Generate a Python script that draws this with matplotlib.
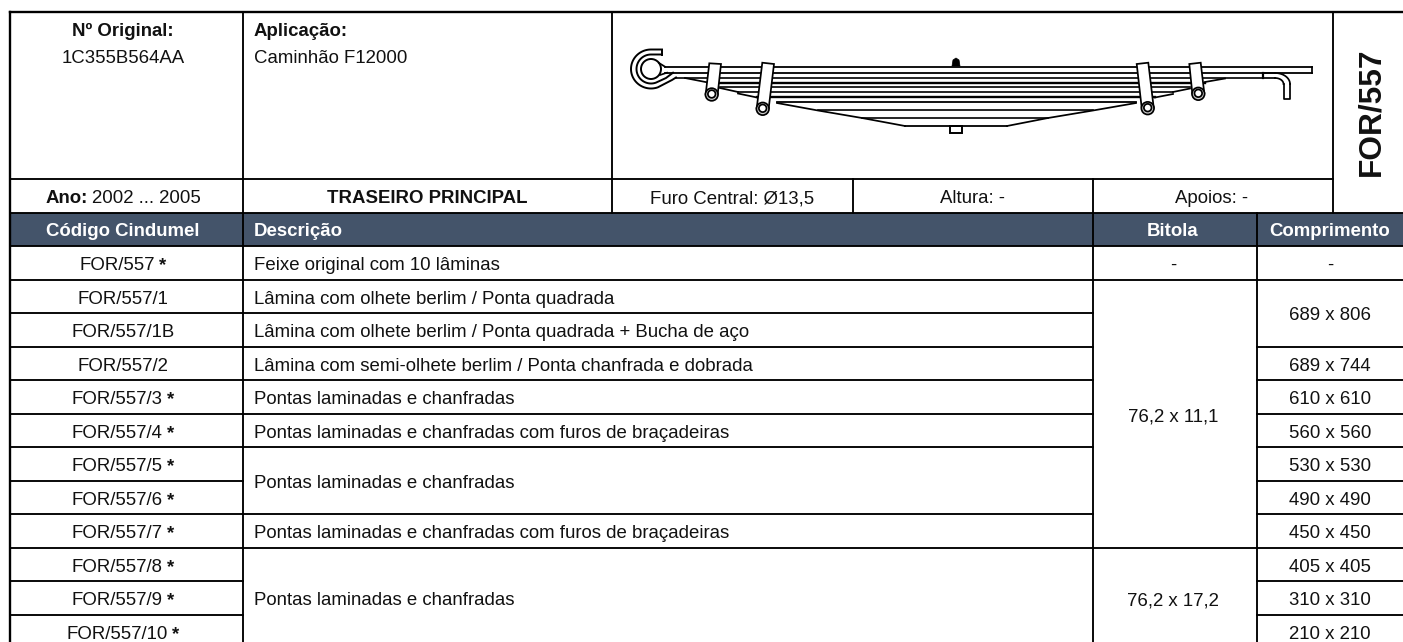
import matplotlib
matplotlib.use("Agg")
import matplotlib.pyplot as plt
import numpy as np
from matplotlib.patches import Circle, Polygon, Rectangle

plt.rcParams["font.family"] = ["Liberation Sans", "DejaVu Sans"]

# table contents
codes = ["FOR/557", "FOR/557/1", "FOR/557/1B", "FOR/557/2", "FOR/557/3", "FOR/557/4",
         "FOR/557/5", "FOR/557/6", "FOR/557/7", "FOR/557/8", "FOR/557/9", "FOR/557/10"]
starred = [True, False, False, False, True, True, True, True, True, True, True, True]
# (first row, last row, text)
descriptions = [
    (0, 0, "Feixe original com 10 lâminas"),
    (1, 1, "Lâmina com olhete berlim / Ponta quadrada"),
    (2, 2, "Lâmina com olhete berlim / Ponta quadrada + Bucha de aço"),
    (3, 3, "Lâmina com semi-olhete berlim / Ponta chanfrada e dobrada"),
    (4, 4, "Pontas laminadas e chanfradas"),
    (5, 5, "Pontas laminadas e chanfradas com furos de braçadeiras"),
    (6, 7, "Pontas laminadas e chanfradas"),
    (8, 8, "Pontas laminadas e chanfradas com furos de braçadeiras"),
    (9, 11, "Pontas laminadas e chanfradas"),
]
gauges = [(0, 0, "-"), (1, 8, "76,2 x 11,1"), (9, 11, "76,2 x 17,2")]
lengths = [(0, 0, "-"), (1, 2, "689 x 806"), (3, 3, "689 x 744"), (4, 4, "610 x 610"),
           (5, 5, "560 x 560"), (6, 6, "530 x 530"), (7, 7, "490 x 490"), (8, 8, "450 x 450"),
           (9, 9, "405 x 405"), (10, 10, "310 x 310"), (11, 11, "210 x 210")]
headers = ["Código Cindumel", "Descrição", "Bitola", "Comprimento"]

# leaf spring outline, in pixels of the picture
leaf_x0 = [665, 665, 676, 708, 720, 738, 757, 777, 818, 862, 905]
leaf_x1 = [1312, 1312, 1263, 1205, 1190, 1173, 1155, 1136, 1093, 1048, 1007]
leaf_y = [66.7, 72.7, 77.5, 82.5, 87.3, 92.3, 97.3, 102.3, 110, 118, 126]
leaf_lw = [1.3, 1.3, 1.2, 1.7, 1.2, 1.2, 1.7, 1.3, 1.2, 1.2, 1.3]
taper_x = [[685, 708], [720, 738], [738, 757], [777, 818, 862, 905],
           [1007, 1048, 1093, 1136], [1155, 1173], [1173, 1190], [1205, 1225]]
taper_y = [[78, 82.5], [88, 92], [93.5, 97.5], [103, 110.5, 118, 126],
           [126, 118, 110.5, 103], [97.5, 94], [92, 88.5], [82, 78.5]]
clip_left = [709.3, 762.3, 1136.7, 1189.3]
clip_right = [721, 774, 1148.3, 1200.7]
clip_left_y = [63.3, 62.7, 64, 64]
clip_right_y = [64, 64, 62.7, 62.7]
ring_x = [711.7, 762.7, 1147.7, 1198.3]
ring_y = [94, 108.3, 107.7, 93.3]

X0, X1, X2, X3, X4, X5, X6 = 10, 243, 612, 853, 1093, 1257, 1333
TOP, INFO, HEAD, BODY = 12, 178.5, 212.5, 246
ROW_H = 33.5
FS = 13.4
XC = 123
DARK = "#111111"

fig = plt.figure(figsize=(14.03, 6.42), dpi=100)
ax = fig.add_axes([0, 0, 1, 1])
ax.set_xlim(0, 1403)
ax.set_ylim(642, 0)
ax.axis("off")


def hline(x0, x1, y, lw=1.35):
    ax.plot([x0, x1], [y, y], color="black", lw=lw, solid_capstyle="projecting", zorder=3)


def vline(x, y0, y1, lw=1.35):
    ax.plot([x, x], [y0, y1], color="black", lw=lw, solid_capstyle="projecting", zorder=3)


def put(x, y, s, ha="center", **kw):
    kw.setdefault("color", DARK)
    ax.text(x, y, s, ha=ha, va="center_baseline", fontsize=FS, zorder=4, **kw)


def text_width(s, weight):
    t = ax.text(0, 0, s, fontsize=FS, fontweight=weight)
    w = t.get_window_extent(fig.canvas.get_renderer()).width
    t.remove()
    return w


def mixed(xc, y, first, second, first_weight, second_weight):
    # two pieces with different weight, centred on xc
    w1 = text_width(first, first_weight)
    w2 = text_width(second, second_weight)
    gap = 4.5
    x = xc - (w1 + gap + w2) / 2
    put(x, y, first, ha="left", fontweight=first_weight)
    put(x + w1 + gap, y, second, ha="left", fontweight=second_weight)


def row_mid(a, b):
    return BODY + ROW_H * (a + b + 1) / 2 + 1


# header band
ax.add_patch(Rectangle((X0, HEAD), 1403 - X0, BODY - HEAD, fc="#44546A", ec="none", zorder=1))

# frame of the top block
hline(X0, 1403, TOP, 1.7)
hline(X0, X6, INFO)
hline(X0, 1403, HEAD)
hline(X0, 1403, BODY)
vline(X0, TOP, 650, 1.7)
vline(X1, TOP, 650)
vline(X2, TOP, HEAD)
vline(X3, INFO, HEAD)
vline(X4, INFO, 650)
vline(X5, HEAD, 650)
vline(X6, TOP, HEAD)

# row rules, broken where cells are merged
for i in range(1, 13):
    y = BODY + ROW_H * i
    hline(X0, X1, y)
    for spans, xa, xb in ((descriptions, X1, X4), (gauges, X4, X5), (lengths, X5, 1403)):
        if any(s[1] == i - 1 for s in spans):
            hline(xa, xb, y)

# top block text
put(XC, 29, "Nº Original:", fontweight="bold")
put(XC, 56.5, "1C355B564AA")
put(254, 29, "Aplicação:", ha="left", fontweight="bold")
put(254, 56.5, "Caminhão F12000", ha="left")
mixed(XC, 196.5, "Ano:", "2002 ... 2005", "bold", "normal")
put((X1 + X2) / 2, 196.5, "TRASEIRO PRINCIPAL", fontweight="bold")
put((X2 + X3) / 2, 196.5, "Furo Central: Ø13,5")
put((X3 + X4) / 2, 196.5, "Altura: -")
put(1212, 196.5, "Apoios: -")
ax.text(1371, 112, "FOR/557", rotation=90, ha="center", va="center", fontsize=22.8,
        fontweight="bold", color=DARK, zorder=4)

# header text
HY = (HEAD + BODY) / 2
put(XC, HY, headers[0], color="white", fontweight="bold")
put(254, HY, headers[1], ha="left", color="white", fontweight="bold")
put(1173, HY, headers[2], color="white", fontweight="bold")
put(1330, HY, headers[3], color="white", fontweight="bold")

# body text
for i, (code, star) in enumerate(zip(codes, starred)):
    if star:
        mixed(XC, row_mid(i, i), code, "*", "normal", "bold")
    else:
        put(XC, row_mid(i, i), code)
for a, b, s in descriptions:
    put(254, row_mid(a, b), s, ha="left")
for a, b, s in gauges:
    put(1173, row_mid(a, b), s)
for a, b, s in lengths:
    put(1330, row_mid(a, b), s)

# leaf spring drawing
SP = 1.25


def stroke(xs, ys, lw=SP):
    ax.plot(xs, ys, color="black", lw=lw, zorder=5, solid_joinstyle="round")


for xa, xb, y, lw in zip(leaf_x0, leaf_x1, leaf_y, leaf_lw):
    stroke([xa, xb], [y, y], lw)
stroke([1312, 1312], [66.7, 72.7])
stroke([1263, 1263], [72.7, 78], 1.6)
for tx, ty in zip(taper_x, taper_y):
    stroke(tx, ty)

# centre bolt
ax.add_patch(Polygon([[952, 66], [953, 60], [956, 58], [959, 60], [960, 66]], fc="black", ec="black", lw=0.5, zorder=5))
ax.add_patch(Rectangle((950, 126), 12, 6.5, fc="white", ec="black", lw=1.4, zorder=4.5))

# eye at the left
ex, ey = 651, 69
t = np.radians(np.linspace(90, 290, 50))
stroke(np.r_[662, ex + 20 * np.cos(t), 672, 676], np.r_[49.5, ey - 19.5 * np.sin(t), 80, 77.5], 1.4)
stroke(np.r_[662, ex + 14.5 * np.cos(t), 666, 673], np.r_[54.5, ey - 14.5 * np.sin(t), 78, 72.7], 1.4)
stroke([662, 662], [49.5, 54.5], 1.4)
ax.add_patch(Circle((ex, ey), 10, fc="white", ec="black", lw=1.4, zorder=5))
stroke([659, 665], [63, 66.7])
stroke([660, 667], [75, 72.7])

# hook at the right
t = np.radians(np.linspace(90, 0, 20))
stroke(1275 + 15 * np.cos(t), 84 - 11 * np.sin(t))
stroke(1275 + 8.5 * np.cos(t), 84 - 6 * np.sin(t))
stroke([1290, 1290, 1283.5, 1283.5], [84, 99, 99, 84])
stroke([1263, 1275], [73, 73])
stroke([1263, 1275], [78, 78])

# spring clips
for xl, xr, yl, yr, rx, ry in zip(clip_left, clip_right, clip_left_y, clip_right_y, ring_x, ring_y):
    ax.add_patch(Polygon([[xl, yl], [xr, yr], [rx + 6, ry], [rx - 6, ry]], fc="white", ec="black", lw=SP, zorder=6))
    ax.add_patch(Circle((rx, ry + 0.5), 6.3, fc="#cccccc", ec="black", lw=SP, zorder=6))
    ax.add_patch(Circle((rx, ry), 3.8, fc="white", ec="black", lw=SP, zorder=7))

fig.savefig("out.png", dpi=100)
